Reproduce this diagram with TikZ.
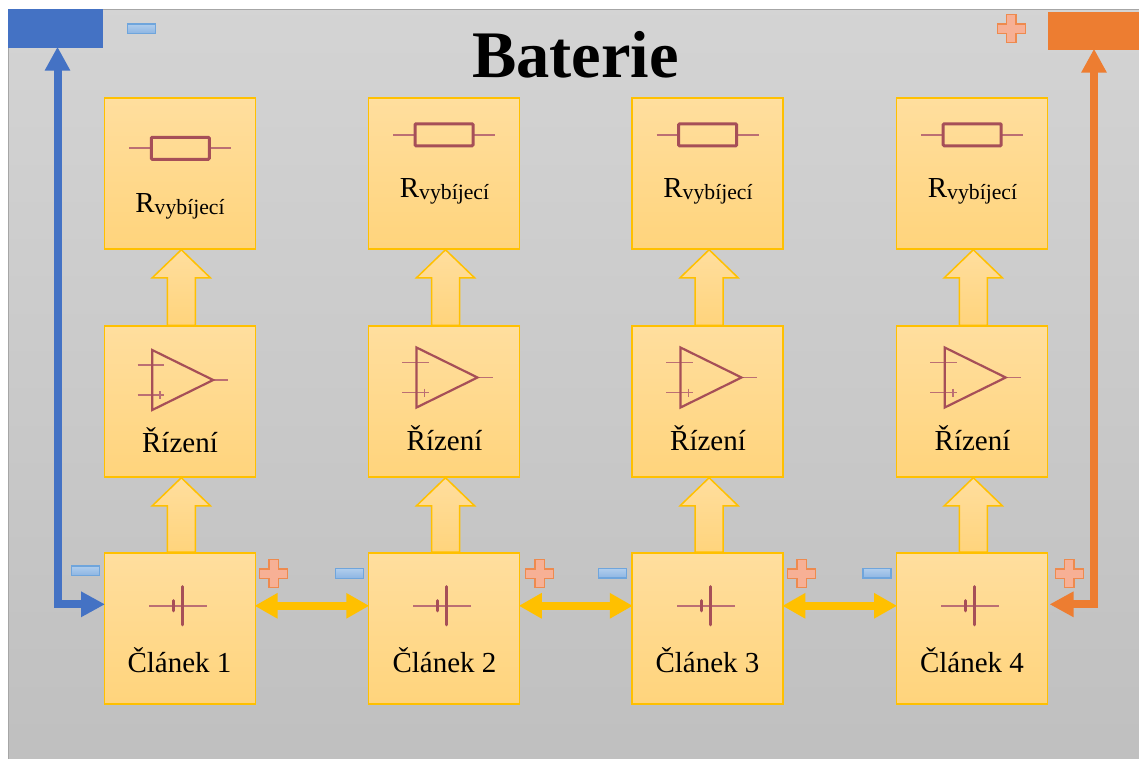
\documentclass[tikz,border=0pt]{standalone}
\usepackage{fontspec}
\setmainfont{Liberation Serif}
\usetikzlibrary{arrows.meta,calc}
\definecolor{boxtop}{HTML}{FFDE9E}
\definecolor{boxbot}{HTML}{FFD47C}
\definecolor{boxline}{HTML}{FFC000}
\definecolor{sym}{HTML}{A64F58}
\definecolor{symlead}{HTML}{BC6F73}
\definecolor{batblue}{HTML}{4472C4}
\definecolor{batorange}{HTML}{ED7D31}
\definecolor{minusline}{HTML}{6FA5DC}
\definecolor{minustop}{HTML}{B0CDEC}
\definecolor{minusbot}{HTML}{8DB5E3}
\definecolor{plusline}{HTML}{EE8A4E}
\definecolor{plusfill}{HTML}{F7B095}
\begin{document}
\begin{tikzpicture}
	[x=1pt,y=-1pt,>={Triangle[length=24pt,width=24pt]},
	box/.style={rectangle,draw=boxline,line width=1.5pt,top color=boxtop,bottom color=boxbot,minimum size=151pt,inner sep=0pt},
	boxtext/.style={anchor=base,inner sep=0pt,font=\fontsize{29}{35}\selectfont},
	terminal/.style={rectangle,inner sep=0pt,minimum width=#1},
	minussign/.style={rectangle,inner sep=0pt,minimum width=28pt,minimum height=9.5pt,draw=minusline,line width=1.2pt,top color=minustop,bottom color=minusbot},
	blockup/.style={draw=boxline,line width=1.5pt,top color=boxtop,bottom color=boxbot,
		to path={-- ++(-12.5,0) -- ($(\tikztotarget)+(-12.5,28)$) -- ($(\tikztotarget)+(-27.5,28)$) -- ($(\tikztotarget)+(1.5,0)$) -- ($(\tikztotarget)+(30.5,28)$) -- ($(\tikztotarget)+(15.5,28)$) -- ($(\tikztostart)+(15.5,0)$) -- cycle}},
	wire/.style={line width=8pt,shorten <=-1.5pt,shorten >=-1.5pt,<->},
	link/.style={line width=8pt,draw=boxline,shorten <=-1.5pt,shorten >=-1.5pt,{Triangle[length=23pt,width=24pt]}-{Triangle[length=23pt,width=24pt]}},
	resistor/.pic={
		\draw[symlead,line width=1.8pt] (-51,0) -- (-29,0) (29,0) -- (51,0);
		\draw[sym,line width=3pt,rounded corners=1pt] (-29,-11) rectangle (29,11);},
	opamp/.pic={
		\draw[symlead,line width=1.8pt] (-14.5,-15) -- (12,-15) (-14.5,15) -- (12,15) (8,11) -- (8,19) (61,0) -- (76,0);
		\draw[sym,line width=2.2pt] (0,-30) -- (61,0) -- (0,30) -- cycle;},
	battery/.pic={
		\draw[symlead,line width=1.8pt] (-29,0) -- (29,0);
		\draw[sym,line width=3.4pt,line cap=round] (-4.7,-5) -- (-4.7,5) (4.3,-19) -- (4.3,19);},
	plussign/.pic={
		\draw[draw=plusline,fill=plusfill,line width=1.4pt] (-4.7,-14) -- (4.7,-14) -- (4.7,-4.7) -- (14,-4.7) -- (14,4.7) -- (4.7,4.7) -- (4.7,14) -- (-4.7,14) -- (-4.7,4.7) -- (-14,4.7) -- (-14,-4.7) -- (-4.7,-4.7) -- cycle;}]
	\useasboundingbox (0,0) rectangle (1139,758);
	\draw[draw=black!35,line width=1pt,top color=black!17,bottom color=black!25] (8,9.5) rectangle (1150,770);

	\node[box] (clanek1) at (179.8,628.3) {};
	\node[box] (clanek2) at (444,628.3) {};
	\node[box] (clanek3) at (707.6,628.3) {};
	\node[box] (clanek4) at (971.8,628.3) {};
	\node[box] (rizeni1) at (179.8,401.5) {};
	\node[box] (rizeni2) at (444,401.5) {};
	\node[box] (rizeni3) at (707.6,401.5) {};
	\node[box] (rizeni4) at (971.8,401.5) {};
	\node[box] (vybij1) at (179.8,173.5) {};
	\node[box] (vybij2) at (444,173.5) {};
	\node[box] (vybij3) at (707.6,173.5) {};
	\node[box] (vybij4) at (971.8,173.5) {};

	\node[terminal=95pt,minimum height=39pt,fill=batblue] (minus) at (55.5,28.5) {};
	\node[terminal=92pt,minimum height=38pt,fill=batorange] (plus) at (1094,31) {};
	\node[font=\fontsize{66.5}{70}\selectfont\bfseries,anchor=base,inner sep=0pt] (titul) at (575.5,77) {Baterie};

	\draw[blockup] (clanek1.north) to (rizeni1.south);
	\draw[blockup] (clanek2.north) to (rizeni2.south);
	\draw[blockup] (clanek3.north) to (rizeni3.south);
	\draw[blockup] (clanek4.north) to (rizeni4.south);
	\draw[blockup] (rizeni1.north) to (vybij1.south);
	\draw[blockup] (rizeni2.north) to (vybij2.south);
	\draw[blockup] (rizeni3.north) to (vybij3.south);
	\draw[blockup] (rizeni4.north) to (vybij4.south);

	\draw[wire,draw=batblue] ([xshift=2pt]minus.south) |- ([yshift=24pt]clanek1.west);
	\draw[wire,draw=batorange] (plus.south) |- ([xshift=3pt,yshift=24pt]clanek4.east);
	\draw[link] ([yshift=22.5pt]clanek1.east) -- ([yshift=22.5pt]clanek2.west);
	\draw[link] ([yshift=22.5pt]clanek2.east) -- ([yshift=22.5pt]clanek3.west);
	\draw[link] ([yshift=22.5pt]clanek3.east) -- ([yshift=22.5pt]clanek4.west);

	\pic (odpor1) at (180.3,148.3) {resistor};
	\pic (odpor2) at (444,134.8) {resistor};
	\pic (odpor3) at (707.6,134.8) {resistor};
	\pic (odpor4) at (972.2,134.8) {resistor};
	\pic (zes1) at (152.2,380) {opamp};
	\pic (zes2) at (416.5,377.5) {opamp};
	\pic (zes3) at (680.5,377.5) {opamp};
	\pic (zes4) at (944.7,377.5) {opamp};
	\pic (bat1) at (178,605.7) {battery};
	\pic (bat2) at (442.3,605.7) {battery};
	\pic (bat3) at (706,605.7) {battery};
	\pic (bat4) at (970.2,605.7) {battery};

	\node[boxtext] (tv1) at (180,212) {R\raisebox{-2pt}{\fontsize{21.7}{24}\selectfont vybíjecí}};
	\node[boxtext] (tv2) at (444.5,197) {R\raisebox{-2pt}{\fontsize{21.7}{24}\selectfont vybíjecí}};
	\node[boxtext] (tv3) at (708,197) {R\raisebox{-2pt}{\fontsize{21.7}{24}\selectfont vybíjecí}};
	\node[boxtext] (tv4) at (972.5,197) {R\raisebox{-2pt}{\fontsize{21.7}{24}\selectfont vybíjecí}};
	\node[boxtext] (tr1) at (180,452.7) {Řízení};
	\node[boxtext] (tr2) at (444.5,450) {Řízení};
	\node[boxtext] (tr3) at (708,450) {Řízení};
	\node[boxtext] (tr4) at (972.5,450) {Řízení};
	\node[boxtext] (tc1) at (179.5,672.5) {Článek 1};
	\node[boxtext] (tc2) at (444.5,672.5) {Článek 2};
	\node[boxtext] (tc3) at (707.5,672.5) {Článek 3};
	\node[boxtext] (tc4) at (972,672.5) {Článek 4};

	\node[minussign] (m0) at (141.3,28.7) {};
	\node[minussign] (m1) at (85.3,570.7) {};
	\node[minussign] (m2) at (349.7,573.5) {};
	\node[minussign] (m3) at (612.7,573.3) {};
	\node[minussign] (m4) at (877,573.3) {};
	\pic (p0) at (1011.3,28.7) {plussign};
	\pic (p1) at (273.5,573.5) {plussign};
	\pic (p2) at (539.5,573.5) {plussign};
	\pic (p3) at (801.5,573.5) {plussign};
	\pic (p4) at (1069.3,573.5) {plussign};
\end{tikzpicture}
\end{document}
